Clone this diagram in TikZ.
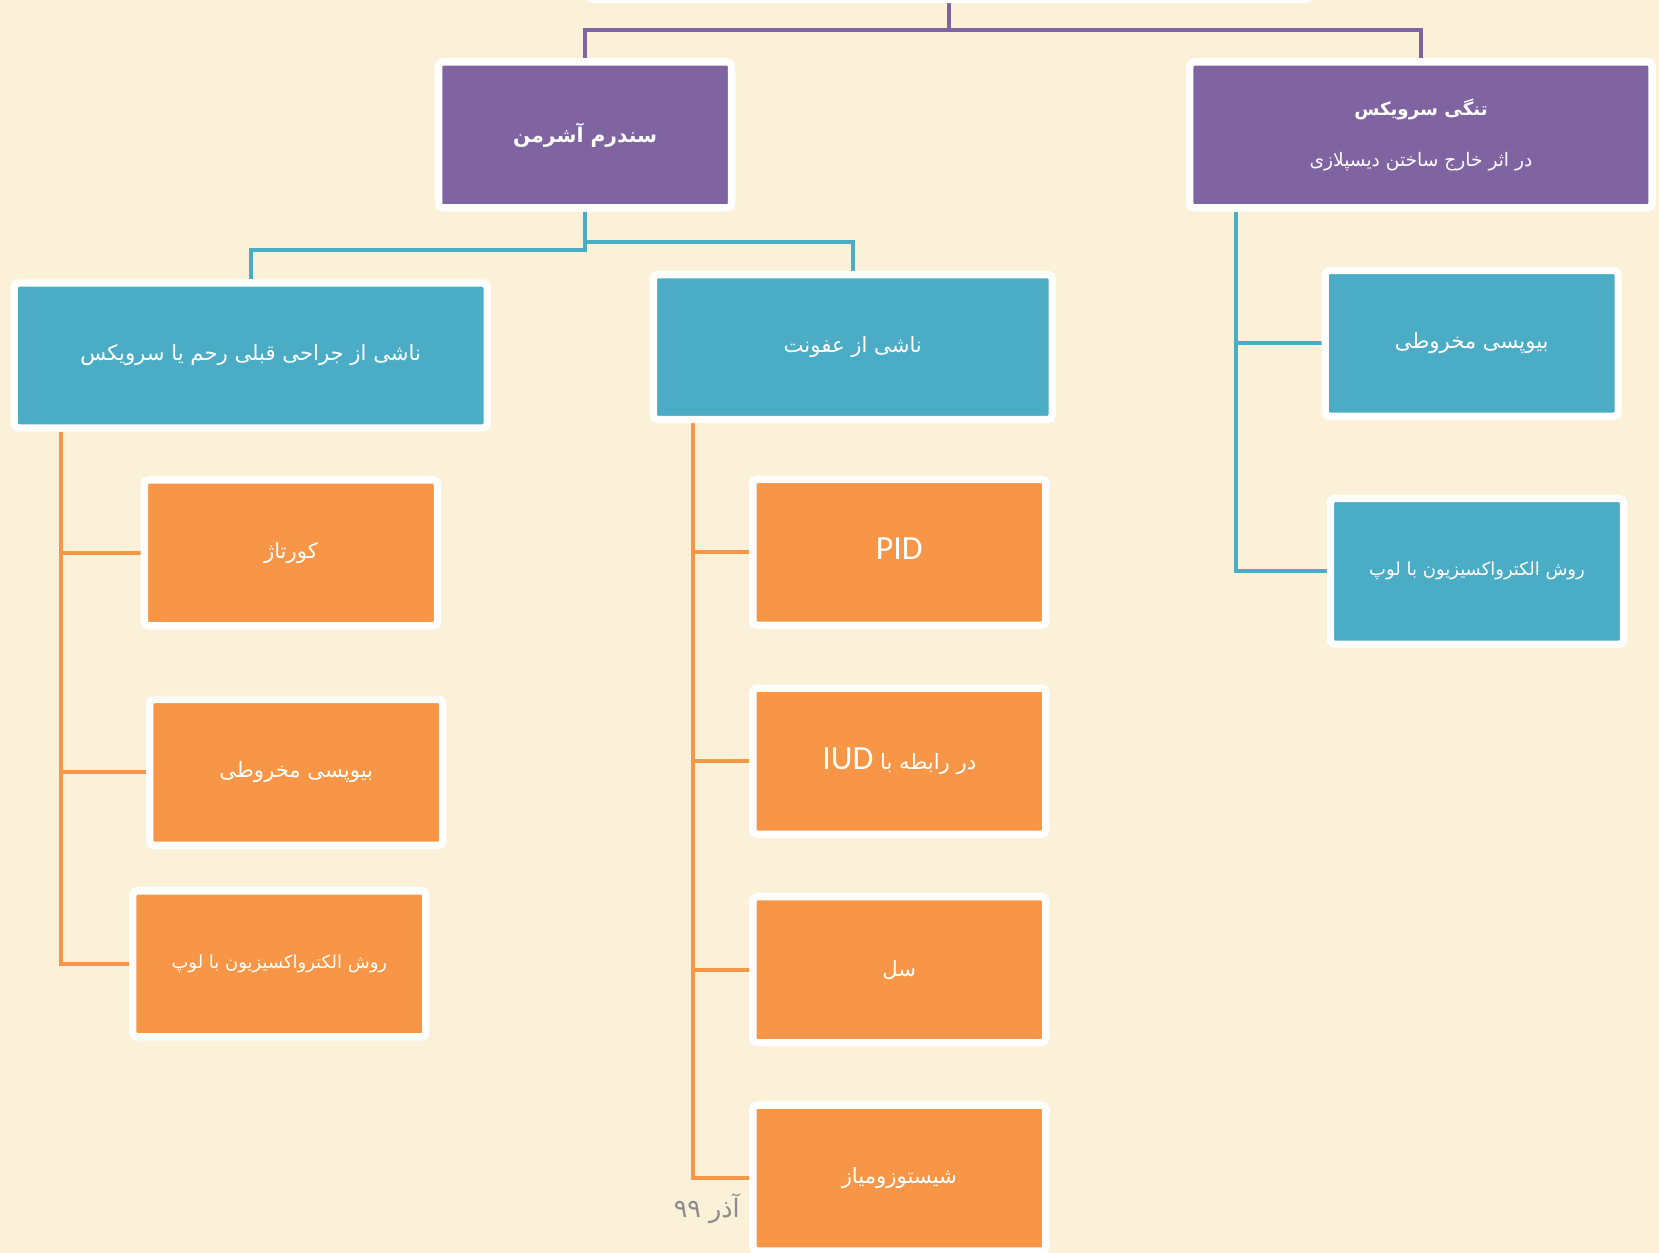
\documentclass[tikz,border=0pt]{standalone}
\usepackage{fontspec}
\usetikzlibrary{calc, shadows, backgrounds}
\TeXXeTstate=1
\newfontfamily\farsi[Script=Arabic]{DejaVu Sans}
\newfontfamily\latin{Carlito}
\newcommand{\fa}[1]{\beginR#1\endR}
\newcommand{\en}[1]{\beginL{\latin #1}\endL}
\definecolor{violetbox}{HTML}{8064A2}
\definecolor{tealbox}{HTML}{4BACC6}
\definecolor{orangebox}{HTML}{F79646}
\definecolor{parchment}{HTML}{FBF0D8}
\tikzstyle{card} = [rectangle, rounded corners=2pt, draw=white, line width=3.5pt, text=white, align=center, font=\farsi\fontsize{10}{12}\selectfont, drop shadow={shadow xshift=0.6pt, shadow yshift=-1.5pt, opacity=0.3}]
\tikzstyle{headcard} = [card, fill=violetbox, minimum width=138.5pt, minimum height=69pt]
\tikzstyle{midcard} = [card, fill=tealbox, minimum width=138.5pt, minimum height=69pt]
\tikzstyle{leafcard} = [card, fill=orangebox, minimum width=138.5pt, minimum height=69pt]
\tikzstyle{violetline} = [draw=violetbox, line width=2pt]
\tikzstyle{tealline} = [draw=tealbox, line width=2pt]
\tikzstyle{orangeline} = [draw=orangebox, line width=2pt]

\begin{document}
\begin{tikzpicture}[x=0.5pt, y=-0.5pt]
    \useasboundingbox (0,0) rectangle (1568,1184);
    \begin{scope}[on background layer]
        \fill [parchment] (0,0) rectangle (1568,1184);
    \end{scope}

    % Nodes
    \node (root) [card, fill=white, minimum width=340.5pt, minimum height=29.5pt] at (897,-30) {};
    \node (asherman) [headcard] at (553,127.5) {\bfseries\fontsize{9.6}{12}\selectfont\fa{سندرم آشرمن}};
    \node (stenosis) [headcard, minimum width=218.5pt] at (1343,127.5) {{\bfseries\fontsize{8.6}{10}\selectfont\fa{تنگی سرویکس}}\\[12pt]{\fontsize{8.8}{10}\selectfont\fa{در اثر خارج ساختن دیسپلازی}}};

    \node (surgery) [midcard, minimum width=223.5pt, minimum height=68.5pt] at (237,336) {\fa{ناشی از جراحی قبلی رحم یا سرویکس}};
    \node (infection) [midcard, minimum width=188.5pt, minimum height=68.5pt] at (806,328) {\fa{ناشی از عفونت}};
    \node (conetwo) [midcard] at (1391,324.5) {\fa{بیوپسی مخروطی}};
    \node (looptwo) [midcard, font=\farsi\fontsize{8.5}{10}\selectfont] at (1396,540) {\fa{روش الکترواکسیزیون با لوپ}};

    \node (curettage) [leafcard] at (275,522.5) {\fa{کورتاژ}};
    \node (cone) [leafcard] at (280,730) {\fa{بیوپسی مخروطی}};
    \node (loop) [leafcard, font=\farsi\fontsize{8.5}{10}\selectfont] at (264,911) {\fa{روش الکترواکسیزیون با لوپ}};

    \node (pid) [leafcard] at (850,522) {\raisebox{3pt}{\latin\fontsize{16}{18}\selectfont PID}};
    \node (iud) [leafcard] at (850,719.5) {\raisebox{2pt}{\fa{در رابطه با \en{\fontsize{16}{18}\selectfont IUD}}}};
    \node (tb) [leafcard] at (850,916.5) {\fa{سل}};
    \node (schisto) [leafcard] at (850,1113.5) {\fa{شیستوزومیاز}};

    \node (date) [text=black!45, font=\farsi\fontsize{12}{14}\selectfont] at (668,1142) {\fa{آذر ۹۹}};

    % Connectors
    \begin{scope}[on background layer]
        \draw [violetline] (root.south) -- ($(root.south)+(0,25)$) -| (asherman.north);
        \draw [violetline] (root.south) -- ($(root.south)+(0,25)$) -| (stenosis.north);

        \draw [tealline] (asherman.south) -- ($(asherman.south)+(0,36)$) -| (surgery.north);
        \draw [tealline] (asherman.south) -- ($(asherman.south)+(0,29)$) -| (infection.north);
        \draw [tealline] ($(stenosis.south west)+(47,0)$) |- (conetwo.west);
        \draw [tealline] ($(stenosis.south west)+(47,0)$) |- (looptwo.west);

        \draw [orangeline] ($(surgery.south west)+(48,0)$) |- (curettage.west);
        \draw [orangeline] ($(surgery.south west)+(48,0)$) |- (cone.west);
        \draw [orangeline] ($(surgery.south west)+(48,0)$) |- (loop.west);

        \draw [orangeline] ($(infection.south west)+(41,0)$) |- (pid.west);
        \draw [orangeline] ($(infection.south west)+(41,0)$) |- (iud.west);
        \draw [orangeline] ($(infection.south west)+(41,0)$) |- (tb.west);
        \draw [orangeline] ($(infection.south west)+(41,0)$) |- (schisto.west);
    \end{scope}
\end{tikzpicture}
\end{document}
